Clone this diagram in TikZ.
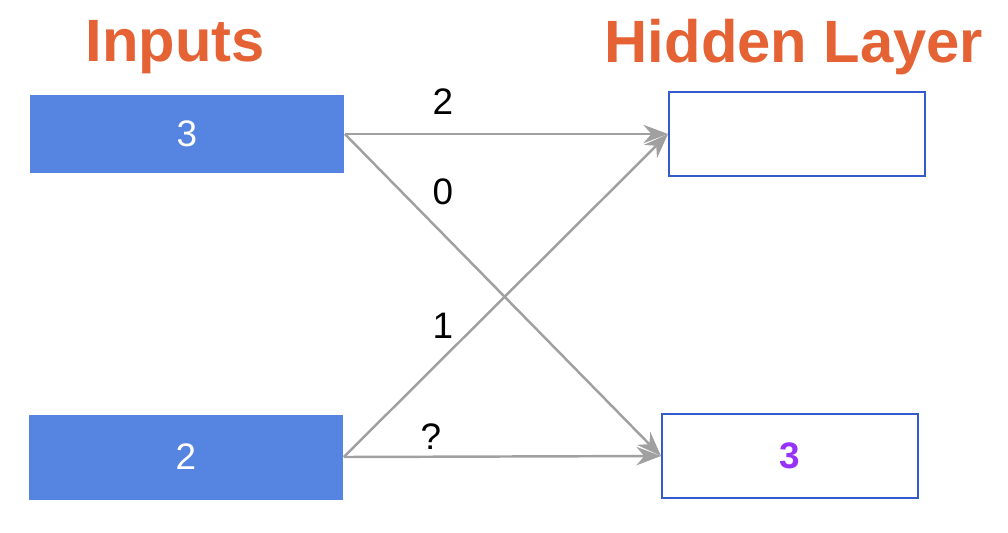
\documentclass[tikz,border=0pt]{standalone}
\usepackage{fontspec}
\setmainfont{Liberation Sans}
\usepackage{tikz}
\usetikzlibrary{arrows.meta,positioning}
\definecolor{netblue}{RGB}{86,132,225}
\definecolor{netedge}{RGB}{52,90,205}
\definecolor{netorange}{RGB}{228,98,52}
\definecolor{netgray}{RGB}{160,160,160}
\definecolor{netpurple}{RGB}{150,50,250}

\begin{document}
\begin{tikzpicture}[
  x=0.02cm, y=-0.02cm,
  inbox/.style={fill=netblue, draw=none, minimum width=6.3cm, minimum height=1.56cm, text=white, font=\fontsize{21}{24}\selectfont},
  hidbox/.style={fill=white, draw=netedge, line width=1.2pt, minimum width=5.12cm, minimum height=1.68cm, font=\fontsize{21}{24}\selectfont\bfseries},
  title/.style={text=netorange, font=\fontsize{34}{38}\selectfont\bfseries},
  weight/.style={font=\fontsize{21}{24}\selectfont},
  link/.style={draw=netgray, line width=1.4pt, -{Stealth[length=14pt,width=10.5pt]}}
]
  \useasboundingbox (0,0) rectangle (1008,532);
  % layer titles
  \node[title] (tin) at (175,47) {Inputs};
  \node[title] (thid) at (794,47) {Hidden Layer};
  % units
  \node[inbox] (in1) at (187,134) {3};
  \node[inbox, minimum height=1.7cm] (in2) at (186,457) {2};
  \node[hidbox] (h1) at (797,134) {};
  \node[hidbox, text=netpurple] (h2) at (790,456) {3};
  % connections
  \draw[link] (in1.east) -- (h1.west);
  \draw[link] (in1.east) -- (h2.west);
  \draw[link] (in2.east) -- (h1.west);
  \draw[link] (in2.east) -- (h2.west);
  % weights
  \node[weight] (w11) at (443,102) {2};
  \node[weight] (w12) at (443,192) {0};
  \node[weight] (w21) at (443,326) {1};
  \node[weight] (w22) at (431,437) {?};
\end{tikzpicture}
\end{document}
